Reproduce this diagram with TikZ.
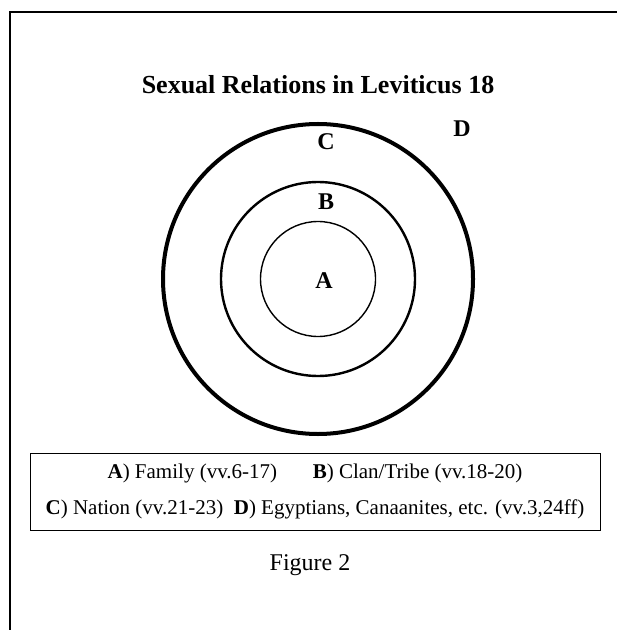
\documentclass[tikz,border=0pt]{standalone}
\usepackage{fontspec}
\setmainfont{Liberation Serif}
\usetikzlibrary{positioning}

\begin{document}
\begin{tikzpicture}[x=0.5pt,y=-0.5pt,
  ttl/.style={font=\fontsize{13}{15}\selectfont\bfseries},
  lbl/.style={font=\fontsize{12}{14}\selectfont\bfseries},
  ring/.style={draw,line width=#1},
  key/.style={draw,line width=0.5pt,align=center,inner sep=0pt,
    minimum width=285pt,minimum height=38.5pt,
    font=\fontsize{10.5}{18}\selectfont}]
  \useasboundingbox (0,0) rectangle (617,630);
  % page frame, only top and left edge show
  \draw[line width=1pt] (10,630) -- (10,12) -- (617,12);
  \node[ttl] (title) at (318,85) {Sexual Relations in Leviticus 18};
  % the three rings
  \coordinate (ctr) at (318,279);
  \draw[ring=2pt] (ctr) circle[radius=155];
  \draw[ring=1.2pt] (ctr) circle[radius=97];
  \draw[ring=0.7pt] (ctr) circle[radius=57.5];
  \node[lbl] (a) at (324,281) {A};
  \node[lbl] (b) at (326,202) {B};
  \node[lbl] (c) at (326,142) {C};
  \node[lbl] (d) at (462,129) {D};
  % legend
  \node[key] (legend) at (315,491.5) {\textbf{A}) Family (vv.6-17)\hspace{1.7em}\textbf{B}) Clan/Tribe (vv.18-20)\\
    \textbf{C}) Nation (vv.21-23)\enspace\textbf{D}) Egyptians, Canaanites, etc. (vv.3,24ff)};
  \node[font=\fontsize{12}{14}\selectfont] (fig) at (310,565) {Figure 2};
\end{tikzpicture}
\end{document}
